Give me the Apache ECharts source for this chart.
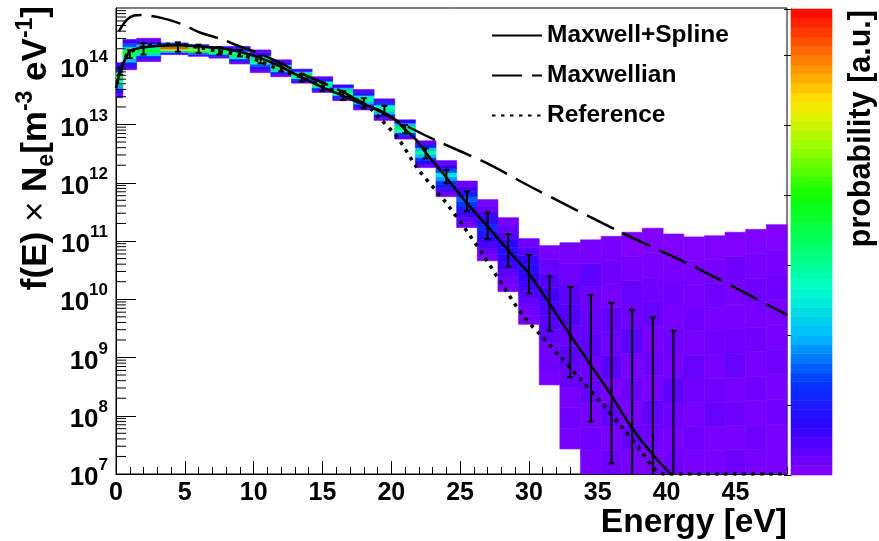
<!DOCTYPE html>
<html>
<head>
<meta charset="utf-8">
<script src="https://cdn.jsdelivr.net/npm/echarts@6/dist/echarts.min.js"></script>
<style>
  html, body { margin: 0; padding: 0; background: #fff; }
  #chart { width: 879px; height: 541px; }
</style>
</head>
<body>
<div id="chart"></div>
<script>
var FONT = 'Liberation Sans, Arial, Helvetica, sans-serif';

// 2D probability histogram: energy bin edges, log10 extent of each column, cell values bottom -> top
var binEdges = [0, 0.5, 1.5, 3.25, 5.25, 6.75, 8.25, 9.75, 11.25, 12.75, 14.25, 15.75, 17.25, 18.75,
  20.25, 21.75, 23.25, 24.75, 26.25, 27.75, 29.25, 30.75, 32.25, 33.75, 35.25, 36.75, 38.25,
  39.75, 41.25, 42.75, 44.25, 45.75, 47.25, 48.75];
var colLow = [13.46, 13.94, 14.08, 14.20, 14.17, 14.14, 14.04, 13.89, 13.82, 13.71, 13.55, 13.41,
  13.25, 13.07, 12.75, 12.26, 11.76, 11.23, 10.66, 10.13, 9.57, 8.53, 7.43, 7, 7, 7, 7, 7, 7, 7, 7, 7, 7];
var colHigh = [14.06, 14.46, 14.48, 14.40, 14.37, 14.34, 14.34, 14.28, 14.11, 13.95, 13.82, 13.68,
  13.60, 13.44, 13.08, 12.72, 12.38, 12.03, 11.71, 11.40, 11.04, 10.92, 10.97, 11.02, 11.08, 11.15,
  11.22, 11.12, 11.07, 11.09, 11.15, 11.20, 11.28];
var colProb = [
  [0.04, 0.12, 0.28, 0.42, 0.5, 0.38, 0.2, 0.08],
  [0.05, 0.14, 0.3, 0.45, 0.55, 0.42, 0.22, 0.08],
  [0.04, 0.15, 0.35, 0.55, 0.5, 0.3, 0.12, 0.04],
  [0.08, 0.3, 0.7, 0.95, 0.62, 0.2],
  [0.06, 0.25, 0.5, 0.72, 0.45, 0.15],
  [0.05, 0.2, 0.45, 0.62, 0.4, 0.14],
  [0.04, 0.14, 0.35, 0.55, 0.42, 0.2, 0.07],
  [0.03, 0.1, 0.22, 0.4, 0.52, 0.32, 0.12, 0.04],
  [0.04, 0.15, 0.35, 0.52, 0.36, 0.14, 0.04],
  [0.05, 0.2, 0.42, 0.56, 0.35, 0.12],
  [0.04, 0.15, 0.36, 0.52, 0.4, 0.15, 0.05],
  [0.05, 0.2, 0.42, 0.52, 0.3, 0.1],
  [0.04, 0.14, 0.3, 0.46, 0.36, 0.15, 0.05],
  [0.04, 0.12, 0.3, 0.46, 0.4, 0.2, 0.06],
  [0.05, 0.2, 0.4, 0.52, 0.3, 0.1],
  [0.03, 0.1, 0.2, 0.3, 0.45, 0.3, 0.14, 0.05],
  [0.03, 0.07, 0.14, 0.2, 0.28, 0.36, 0.22, 0.1, 0.04],
  [0.03, 0.05, 0.09, 0.14, 0.2, 0.23, 0.15, 0.08, 0.03],
  [0.02, 0.04, 0.07, 0.1, 0.14, 0.17, 0.13, 0.08, 0.04, 0.02],
  [0.02, 0.03, 0.05, 0.08, 0.1, 0.13, 0.11, 0.07, 0.04, 0.02],
  [0.02, 0.03, 0.04, 0.06, 0.08, 0.1, 0.12, 0.1, 0.06, 0.03],
  [0.02, 0.03, 0.03, 0.05, 0.06, 0.07, 0.08, 0.06, 0.04, 0.02],
  [0.02, 0.03, 0.02, 0.04, 0.05, 0.04, 0.06, 0.05, 0.03, 0.02],
  [0.02, 0.03, 0.02, 0.04, 0.03, 0.05, 0.04, 0.03, 0.05, 0.02],
  [0.03, 0.02, 0.04, 0.02, 0.05, 0.03, 0.04, 0.02, 0.03, 0.02],
  [0.02, 0.04, 0.02, 0.03, 0.02, 0.05, 0.03, 0.04, 0.02, 0.01],
  [0.02, 0.03, 0.04, 0.02, 0.03, 0.02, 0.04, 0.03, 0.02, 0.01],
  [0.03, 0.02, 0.03, 0.05, 0.02, 0.03, 0.02, 0.03, 0.02, 0.01],
  [0.02, 0.03, 0.02, 0.03, 0.04, 0.02, 0.03, 0.02, 0.02, 0.01],
  [0.02, 0.02, 0.04, 0.03, 0.02, 0.03, 0.02, 0.03, 0.02, 0.01],
  [0.03, 0.02, 0.03, 0.02, 0.04, 0.03, 0.02, 0.02, 0.03, 0.01],
  [0.02, 0.03, 0.02, 0.03, 0.02, 0.03, 0.02, 0.03, 0.02, 0.01],
  [0.02, 0.02, 0.03, 0.02, 0.03, 0.02, 0.02, 0.03, 0.02, 0.01]
];

// curves, values as log10(f(E) x Ne)
var splineE = [0, 0.3, 0.7, 1.0, 1.5, 2.0, 3.2, 4.7, 6.1, 7.6, 9.0, 10.5, 11.9, 13.4, 14.8, 16.3,
  17.7, 19.2, 20.3, 20.9, 21.8, 22.5, 24.0, 25.5, 27.0, 28.5, 30.0, 31.4, 32.9, 34.4, 35.9, 37.4, 38.9, 40.45];
var splineLog = [13.62, 13.91, 14.14, 14.26, 14.30, 14.32, 14.35, 14.36, 14.34, 14.31, 14.25, 14.14,
  14.0, 13.82, 13.66, 13.51, 13.37, 13.24, 13.08, 12.94, 12.74, 12.52, 12.09, 11.65, 11.25, 10.84,
  10.44, 9.96, 9.42, 8.90, 8.38, 7.82, 7.36, 6.96];

var maxwellE = [0.2, 0.8, 1.3, 1.9, 3.3, 4.7, 6.1, 7.6, 9.0, 10.5, 12.0, 13.4, 14.8, 16.3, 17.7,
  19.2, 21.4, 23.3, 26.9, 30.3, 36.6, 42.0, 48.75];
var maxwellLog = [14.6, 14.8, 14.87, 14.88, 14.83, 14.73, 14.58, 14.47, 14.34, 14.21, 14.05, 13.88,
  13.74, 13.58, 13.40, 13.22, 12.94, 12.72, 12.34, 11.91, 11.16, 10.56, 9.73];

var refE = [0.07, 0.55, 0.92, 2.0, 3.2, 4.7, 6.1, 7.6, 9.0, 10.5, 11.9, 13.4, 14.8, 16.3, 17.7,
  18.5, 19.2, 20.5, 21.9, 23.8, 25.25, 26.7, 28.15, 29.5, 30.9, 32.3, 33.8, 35.3, 36.75, 38.1,
  39.0, 39.8, 44.0, 48.6];
var refLog = [13.71, 14.08, 14.23, 14.34, 14.38, 14.37, 14.32, 14.25, 14.20, 14.08, 13.94, 13.82,
  13.68, 13.54, 13.40, 13.27, 13.10, 12.76, 12.25, 11.71, 11.25, 10.75, 10.22, 9.74, 9.37, 9.01,
  8.61, 8.21, 7.81, 7.41, 7.12, 7.0, 7.0, 7.0];

// error bars of the Maxwell+Spline fit
var errE = [0.3, 1.0, 2.0, 4.5, 6, 7.5, 9, 10.5, 12, 13.5, 15, 16.5, 18, 19.5, 21, 22.5, 24, 25.5,
  27, 28.5, 30, 31.5, 33, 34.5, 36, 37.5, 39, 40.5];
var errLow = [13.85, 14.14, 14.20, 14.25, 14.23, 14.20, 14.17, 14.05, 13.91, 13.74, 13.58, 13.42,
  13.28, 13.17, 12.85, 12.42, 11.99, 11.51, 11.03, 10.56, 10.10, 9.46, 8.66, 7.90, 7.18, 6.8, 6.8, 6.8];
var errHigh = [13.98, 14.28, 14.40, 14.41, 14.37, 14.33, 14.28, 14.18, 14.05, 13.87, 13.72, 13.57,
  13.45, 13.32, 12.99, 12.59, 12.22, 11.85, 11.49, 11.12, 10.76, 10.39, 10.21, 10.07, 9.94, 9.82,
  9.69, 9.46];

var decades = [7, 8, 9, 10, 11, 12, 13, 14];

function pw(l) { return Math.pow(10, l); }
function pairs(xs, ls) { return xs.map(function (x, i) { return [x, pw(ls[i])]; }); }

var cells = [];
colProb.forEach(function (vals, c) {
  var lo = colLow[c], hi = colHigh[c], n = vals.length;
  vals.forEach(function (v, i) {
    cells.push([binEdges[c], binEdges[c + 1], pw(lo + (hi - lo) * i / n), pw(lo + (hi - lo) * (i + 1) / n), v]);
  });
});

var cbBands = [];
for (var i = 0; i < 50; i++) cbBands.push([0, 1, i / 50, (i + 1) / 50, (i + 0.5) / 50]);

var yMinor = [];
decades.forEach(function (d) {
  for (var k = 2; k <= 9; k++) yMinor.push([0, k * pw(d)]);
});

var errData = errE.map(function (e, i) { return [e, pw(errLow[i]), pw(errHigh[i])]; });

function renderCell(params, api) {
  var p0 = api.coord([api.value(0), api.value(3)]);
  var p1 = api.coord([api.value(1), api.value(2)]);
  var cs = params.coordSys;
  var shape = echarts.graphic.clipRectByRect(
    { x: p0[0], y: p0[1], width: p1[0] - p0[0], height: p1[1] - p0[1] },
    { x: cs.x, y: cs.y, width: cs.width, height: cs.height });
  if (!shape) return;
  var c = api.visual('color');
  return { type: 'rect', shape: shape, style: { fill: c, stroke: c, lineWidth: 0.6 } };
}

function renderErr(params, api) {
  var cs = params.coordSys;
  var x = api.value(0);
  var top = api.coord([x, api.value(2)]);
  var bot = api.coord([x, api.value(1)]);
  var yb = Math.min(bot[1], cs.y + cs.height);
  var st = { stroke: '#000', lineWidth: 2 };
  var kids = [
    { type: 'line', shape: { x1: top[0], y1: top[1], x2: top[0], y2: yb }, style: st },
    { type: 'line', shape: { x1: top[0] - 3, y1: top[1], x2: top[0] + 3, y2: top[1] }, style: st }
  ];
  if (bot[1] <= cs.y + cs.height) {
    kids.push({ type: 'line', shape: { x1: bot[0] - 3, y1: bot[1], x2: bot[0] + 3, y2: bot[1] }, style: st });
  }
  return { type: 'group', children: kids };
}

function renderTick(params, api) {
  var p = api.coord([0, api.value(1)]);
  return { type: 'line', shape: { x1: p[0], y1: p[1], x2: p[0] + 10, y2: p[1] },
    style: { stroke: '#000', lineWidth: 1 } };
}

var chart = echarts.init(document.getElementById('chart'), null, { renderer: 'canvas' });
chart.setOption({
  animation: false,
  backgroundColor: '#fff',
  textStyle: { fontFamily: FONT },
  grid: [
    { left: 116, top: 8, width: 671, height: 466, show: true, borderColor: '#000', borderWidth: 1 },
    { left: 791, top: 9, width: 41, height: 466 }
  ],
  xAxis: [
    {
      type: 'value', gridIndex: 0, position: 'bottom', min: 0, max: 48.75, interval: 5,
      axisLine: { lineStyle: { color: '#000', width: 1 } },
      axisTick: { inside: true, length: 13, lineStyle: { color: '#000' } },
      splitLine: { show: false },
      axisLabel: { showMaxLabel: false, margin: 7, color: '#000', fontSize: 25, fontWeight: 'bold', fontFamily: FONT }
    },
    {
      type: 'value', gridIndex: 0, position: 'bottom', min: 0, max: 48.75, interval: 1,
      axisLine: { show: false },
      axisTick: { inside: true, length: 7, lineStyle: { color: '#000' } },
      splitLine: { show: false }, axisLabel: { show: false }
    },
    { type: 'value', gridIndex: 1, min: 0, max: 1, show: false }
  ],
  yAxis: [
    {
      type: 'log', gridIndex: 0, min: 1e7, max: 1e15, splitNumber: 8, logBase: 10,
      axisLine: { lineStyle: { color: '#000', width: 1 } },
      axisTick: { inside: true, length: 20, lineStyle: { color: '#000' } },
      splitLine: { show: false },
      axisLabel: {
        showMaxLabel: false, margin: 8, color: '#000',
        formatter: function (v) { return '{b|10}{s|' + Math.round(Math.log10(v)) + '}'; },
        rich: {
          b: { fontSize: 26, fontWeight: 'bold', fontFamily: FONT, color: '#000', lineHeight: 34, verticalAlign: 'bottom' },
          s: { fontSize: 17, fontWeight: 'bold', fontFamily: FONT, color: '#000', lineHeight: 17, verticalAlign: 'top' }
        }
      }
    },
    {
      type: 'value', gridIndex: 1, min: 0, max: 1, interval: 0.15, position: 'right',
      axisLine: { show: true, lineStyle: { color: '#000', width: 1 } },
      axisTick: { inside: true, length: 7, lineStyle: { color: '#000' } },
      splitLine: { show: false }, axisLabel: { show: false }
    }
  ],
  visualMap: {
    type: 'continuous', show: false, min: 0, max: 1, dimension: 4, seriesIndex: [0, 1],
    inRange: { color: ['#8800ff', '#3300ff', '#0036ff', '#00bcff', '#00ffc9', '#00ff60',
      '#0dff00', '#94ff00', '#ffe800', '#ff7400', '#ff0000'] }
  },
  legend: {
    orient: 'vertical', left: 486, top: 18, itemWidth: 50, itemHeight: 14, itemGap: 15,
    selectedMode: false,
    itemStyle: { opacity: 0 },
    data: ['Maxwell+Spline', 'Maxwellian', 'Reference'],
    textStyle: { fontSize: 24.5, fontWeight: 'bold', color: '#000', fontFamily: FONT }
  },
  graphic: [
    {
      type: 'text', x: 36, y: 6, rotation: Math.PI / 2,
      style: {
        text: '{m|f(E) }{x|\u00d7}{m| N}{sub|e}{m|[m}{sup|-3}{m| eV}{sup|-1}{m|]}',
        align: 'right', verticalAlign: 'middle',
        rich: {
          m: { fontSize: 35, fontWeight: 'bold', fontFamily: FONT, fill: '#000', lineHeight: 44 },
          x: { fontSize: 35, fontWeight: 'normal', fontFamily: FONT, fill: '#000', lineHeight: 44 },
          sup: { fontSize: 23, fontWeight: 'bold', fontFamily: FONT, fill: '#000', lineHeight: 23, verticalAlign: 'top' },
          sub: { fontSize: 23, fontWeight: 'bold', fontFamily: FONT, fill: '#000', lineHeight: 23, verticalAlign: 'bottom' }
        }
      }
    },
    {
      type: 'text', x: 787, y: 523,
      style: { text: 'Energy [eV]', align: 'right', verticalAlign: 'middle',
        fontSize: 33.5, fontWeight: 'bold', fontFamily: FONT, fill: '#000' }
    },
    {
      type: 'text', x: 862, y: 10, rotation: Math.PI / 2,
      style: { text: 'probability [a.u.]', align: 'right', verticalAlign: 'middle',
        fontSize: 30.5, fontWeight: 'bold', fontFamily: FONT, fill: '#000' }
    }
  ],
  series: [
    {
      type: 'custom', name: 'hist', xAxisIndex: 0, yAxisIndex: 0, renderItem: renderCell,
      encode: { x: [0, 1], y: [2, 3] }, data: cells, silent: true, z: 1
    },
    {
      type: 'custom', name: 'colorbar', xAxisIndex: 2, yAxisIndex: 1,
      renderItem: function (params, api) {
        var p0 = api.coord([api.value(0), api.value(3)]);
        var p1 = api.coord([api.value(1), api.value(2)]);
        var c = api.visual('color');
        return { type: 'rect', shape: { x: p0[0], y: p0[1], width: p1[0] - p0[0], height: p1[1] - p0[1] },
          style: { fill: c, stroke: c, lineWidth: 0.6 } };
      },
      encode: { x: [0, 1], y: [2, 3] }, data: cbBands, silent: true, z: 1
    },
    {
      type: 'line', name: 'Maxwell+Spline', xAxisIndex: 0, yAxisIndex: 0,
      data: pairs(splineE, splineLog), smooth: 0.3, symbol: 'none', z: 4,
      lineStyle: { color: '#000', width: 2.5 }, itemStyle: { color: '#000' }
    },
    {
      type: 'line', name: 'Maxwellian', xAxisIndex: 0, yAxisIndex: 0,
      data: pairs(maxwellE, maxwellLog), smooth: 0.3, symbol: 'none', z: 4,
      lineStyle: { color: '#000', width: 2.5, type: [30, 10] }, itemStyle: { color: '#000' }
    },
    {
      type: 'line', name: 'Reference', xAxisIndex: 0, yAxisIndex: 0,
      data: pairs(refE, refLog), smooth: 0.3, symbol: 'none', z: 4,
      lineStyle: { color: '#000', width: 3.5, type: [3.5, 5.5] }, itemStyle: { color: '#000' }
    },
    {
      type: 'custom', name: 'errors', xAxisIndex: 0, yAxisIndex: 0, renderItem: renderErr,
      encode: { x: 0, y: [1, 2] }, data: errData, silent: true, z: 5
    },
    {
      type: 'custom', name: 'yMinorTicks', xAxisIndex: 0, yAxisIndex: 0, renderItem: renderTick,
      encode: { x: 0, y: 1 }, data: yMinor, silent: true, z: 6
    }
  ]
});
</script>
</body>
</html>
